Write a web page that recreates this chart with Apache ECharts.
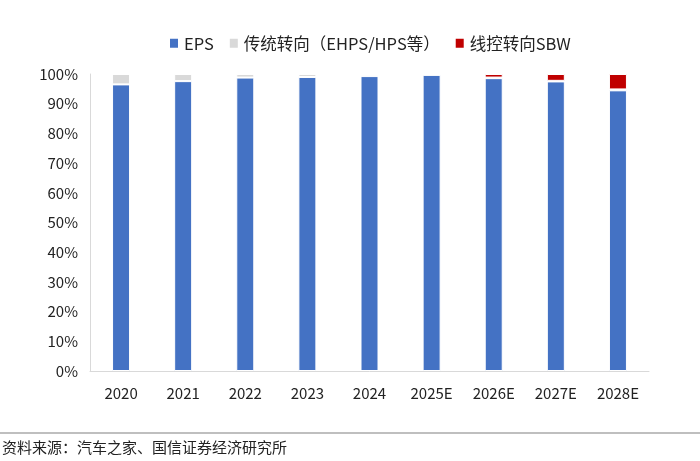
<!DOCTYPE html>
<html>
<head>
<meta charset="utf-8">
<script src="https://cdn.jsdelivr.net/npm/echarts@6/dist/echarts.min.js"></script>
<style>html,body{margin:0;padding:0;background:#fff}#c{width:700px;height:461px}</style>
</head>
<body>
<div id="c"></div>
<script>
const categories = ['2020','2021','2022','2023','2024','2025E','2026E','2027E','2028E'];
const epsValues = [96.5, 97.6, 98.8, 99.0, 99.3, 99.7, 98.6, 97.5, 94.5];
const traditionalValues = [3.5, 2.4, 1.2, 1.0, 0.7, 0.3, 0.2, 0.2, 0.3];
const sbwValues = [0, 0, 0, 0, 0, 0, 1.2, 2.3, 5.2];
const yTicks = [0,10,20,30,40,50,60,70,80,90,100];
const seriesNames = ['EPS', '传统转向（EHPS/HPS等）', '线控转向SBW'];
const sourceText = '资料来源：汽车之家、国信证券经济研究所';

const font = '"Microsoft YaHei","Noto Sans CJK SC","Noto Sans",sans-serif';
const chart = echarts.init(document.getElementById('c'));
const barBase = {type:'bar', stack:'s', barWidth:18};
chart.setOption({
  animation:false,
  textStyle:{fontFamily:font},
  legend:{top:30, left:163, icon:'rect', itemWidth:10, itemHeight:11, itemGap:14,
    textStyle:{fontSize:16.5, color:'#222', fontFamily:font},
    data:seriesNames},
  grid:{left:90, right:51, top:74, bottom:90},
  xAxis:{type:'category', data:categories,
    axisLine:{lineStyle:{color:'#d9d9d9'}}, axisTick:{show:false},
    axisLabel:{fontSize:15, color:'#222', margin:15}},
  yAxis:{type:'value', min:0, max:100, interval:10,
    axisLine:{show:true, lineStyle:{color:'#d9d9d9'}}, axisTick:{show:false},
    splitLine:{show:false},
    axisLabel:{fontSize:15, color:'#222', margin:12, formatter:v=>yTicks.includes(v)?v+'%':''}},
  series:[
    Object.assign({}, barBase, {name:seriesNames[0], data:epsValues, itemStyle:{color:'#4472C4', borderColor:'#fff', borderWidth:1}}),
    Object.assign({}, barBase, {name:seriesNames[1], data:traditionalValues, itemStyle:{color:'#D9D9D9', borderColor:'#fff', borderWidth:1}}),
    Object.assign({}, barBase, {name:seriesNames[2], data:sbwValues, itemStyle:{color:'#C00000', borderColor:'#fff', borderWidth:1}})
  ],
  graphic:[
    {type:'line', shape:{x1:0, y1:433, x2:700, y2:433}, style:{stroke:'#bfbfbf', lineWidth:2}},
    {type:'text', left:2, top:440, style:{text:sourceText, fontSize:15, fill:'#222', fontFamily:font}}
  ]
});
</script>
</body>
</html>
